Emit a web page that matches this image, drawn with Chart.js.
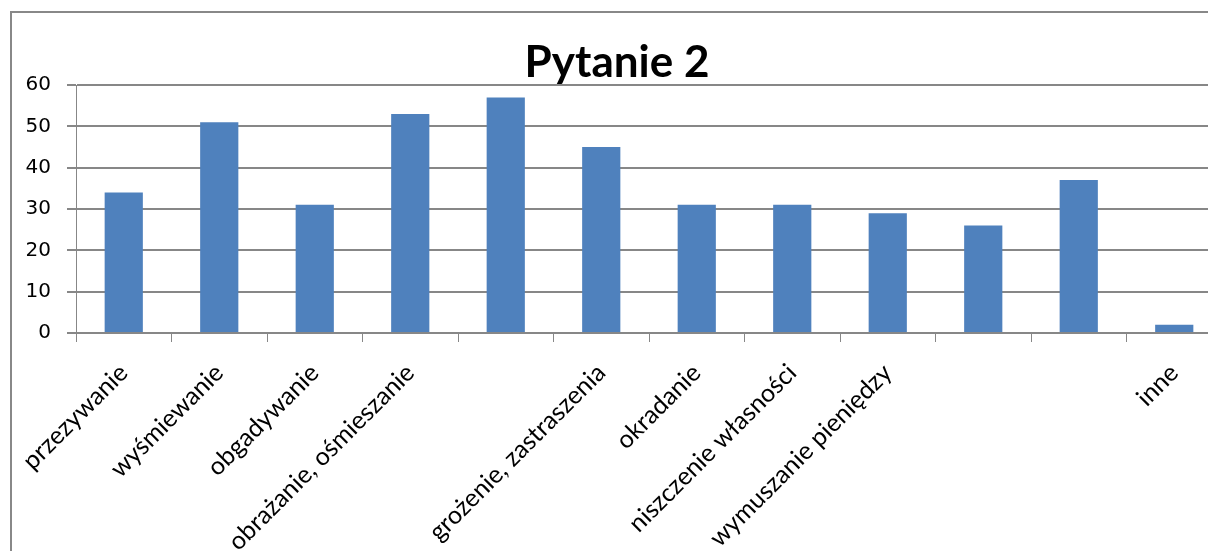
<!DOCTYPE html>
<html>
<head>
<meta charset="utf-8">
<script src="https://cdn.jsdelivr.net/npm/chart.js@4"></script>
<style>
  html, body { margin: 0; padding: 0; background: #fff; overflow: hidden; width: 1208px; height: 551px; }
  #frame { position: absolute; left: 10px; top: 11px; border-left: 2px solid #888; border-top: 2px solid #888; }
  canvas { display: block; }
</style>
</head>
<body>
<div id="frame"><canvas id="chart" width="1212" height="580"></canvas></div>
<script>
// Pytanie 2 - bar chart
var categories = [
    'przezywanie', 'wyśmiewanie', 'obgadywanie', 'obrażanie, ośmieszanie', '',
    'grożenie, zastraszenia', 'okradanie', 'niszczenie własności', 'wymuszanie pieniędzy',
    '', '', 'inne'
];
var values = [34, 51, 31, 53, 57, 45, 31, 31, 29, 26, 37, 2];
var yTicks = [0, 10, 20, 30, 40, 50, 60];

var gridColor = '#878787';

document.addEventListener('DOMContentLoaded', function() {
    var ctx = document.getElementById('chart').getContext('2d');
    new Chart(ctx, {
        type: 'bar',
        data: {
            labels: categories,
            datasets: [{
                data: values,
                backgroundColor: '#4F81BD',
                borderWidth: 0,
                categoryPercentage: 1.0,
                barPercentage: 0.4
            }]
        },
        options: {
            responsive: false,
            animation: false,
            layout: { padding: { left: 0, right: 2, top: 0, bottom: 0 } },
            plugins: {
                legend: { display: false },
                tooltip: { enabled: false },
                title: {
                    display: true,
                    text: 'Pytanie 2',
                    color: '#000',
                    font: { family: 'Lato', size: 44, weight: 'bold', lineHeight: 1.0 },
                    padding: { top: 28, bottom: 0 }
                }
            },
            scales: {
                x: {
                    grid: { drawOnChartArea: false, tickLength: 9, color: gridColor, lineWidth: 1 },
                    border: { display: true, color: gridColor, width: 1 },
                    ticks: {
                        autoSkip: false,
                        maxRotation: 45,
                        minRotation: 45,
                        padding: 16,
                        color: '#000',
                        font: { family: 'Lato', size: 25 }
                    },
                    afterFit: function(scale) {
                        scale.height = 580 - 320;
                        // long rotated labels should not push the plot area in
                        scale.paddingLeft = 0;
                        scale.paddingRight = 0;
                    }
                },
                y: {
                    min: 0,
                    max: 60,
                    afterBuildTicks: function(scale) {
                        scale.ticks = yTicks.map(function(v) { return { value: v }; });
                    },
                    grid: { tickLength: 9, color: gridColor, lineWidth: 2 },
                    border: { display: true, color: gridColor, width: 1 },
                    ticks: {
                        padding: 16,
                        color: '#000',
                        font: { family: 'DejaVu Sans', size: 20 }
                    },
                    afterFit: function(scale) { scale.width = 64; }
                }
            }
        }
    });
});
</script>
</body>
</html>
